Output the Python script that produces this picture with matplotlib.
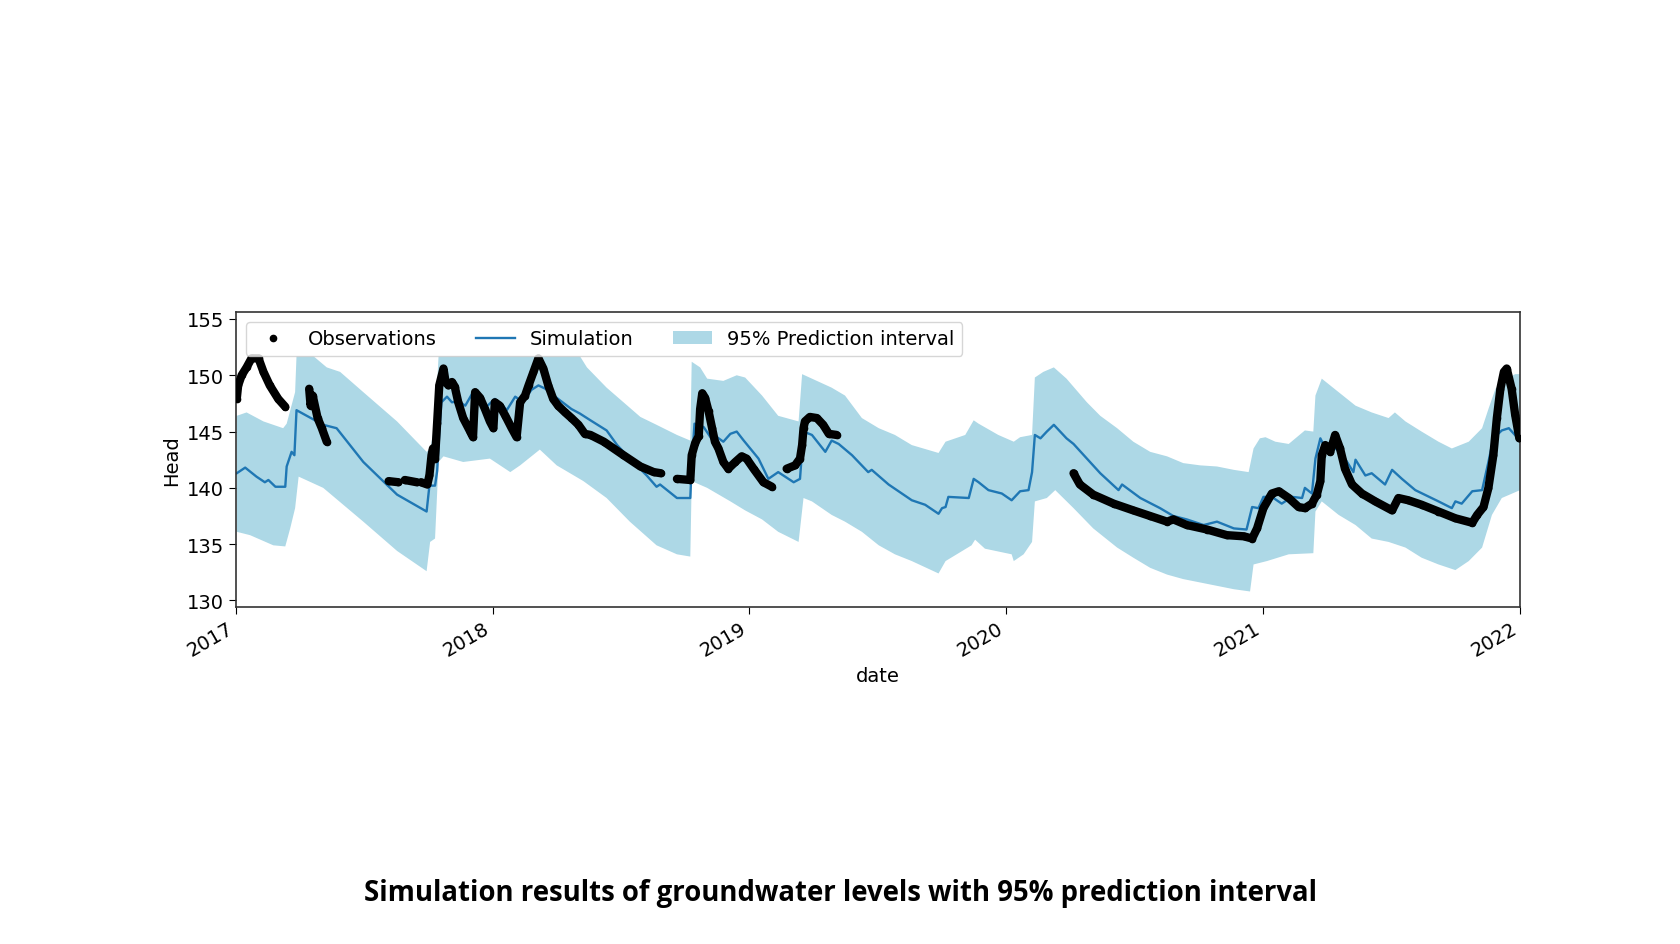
import numpy as np
import pandas as pd
import matplotlib
matplotlib.use("Agg")
from matplotlib import pyplot as plt
import matplotlib.dates as mdates

# x values are days since 2017-01-01
start = pd.Timestamp("2017-01-01")

sim_day = [1, 13, 29, 41, 46, 56, 70, 72, 79, 83, 86, 124, 143, 181, 229, 271,
           275, 283, 286, 288, 292, 300, 307, 316, 326, 337, 345, 356, 368, 378,
           385, 397, 404, 411, 420, 430, 440, 458, 477, 489, 504, 527, 542, 560,
           584, 598, 603, 627, 646, 648, 652, 665, 679, 684, 693, 703, 712, 722,
           743, 757, 771, 793, 802, 807, 819, 838, 847, 857, 876, 899, 904, 928,
           961, 980, 999, 1004, 1009, 1013, 1042, 1049, 1056, 1070, 1089, 1103,
           1115, 1127, 1132, 1136, 1144, 1153, 1163, 1181, 1191, 1210, 1229, 1255,
           1260, 1286, 1314, 1333, 1352, 1376, 1395, 1419, 1437, 1445, 1454, 1461,
           1473, 1487, 1502, 1516, 1520, 1530, 1535, 1542, 1549, 1558, 1577, 1589,
           1592, 1606, 1615, 1634, 1644, 1658, 1677, 1710, 1729, 1734, 1743, 1758,
           1772, 1781, 1788, 1800, 1810, 1826]
sim_head = [141.3, 141.8, 141.0, 140.5, 140.7, 140.1, 140.1, 141.9, 143.2, 142.9,
            146.9, 145.6, 145.3, 142.3, 139.4, 137.9, 140.2, 140.2, 141.5, 143.8,
            147.6, 148.1, 147.6, 147.7, 147.3, 148.5, 148.0, 147.2, 147.9, 147.4,
            146.9, 148.1, 147.8, 147.9, 148.7, 149.1, 148.8, 147.9, 147.0, 146.6,
            146.0, 145.1, 143.8, 142.6, 141.1, 140.1, 140.3, 139.1, 139.1, 142.0,
            145.7, 145.4, 144.1, 144.5, 144.1, 144.8, 145.0, 144.2, 142.6, 140.8,
            141.4, 140.5, 140.8, 145.0, 144.7, 143.2, 144.2, 143.9, 142.9, 141.4,
            141.6, 140.3, 138.9, 138.5, 137.7, 138.2, 138.3, 139.2, 139.1, 140.8,
            140.5, 139.8, 139.5, 138.9, 139.7, 139.8, 141.4, 144.7, 144.4, 145.0,
            145.6, 144.4, 143.9, 142.6, 141.3, 139.8, 140.3, 139.1, 138.2, 137.5,
            137.2, 136.7, 137.0, 136.4, 136.3, 138.3, 138.2, 139.2, 139.2, 138.6,
            139.2, 139.1, 140.0, 139.5, 142.6, 144.4, 143.5, 143.9, 142.6, 141.4,
            142.5, 141.1, 141.3, 140.3, 141.6, 140.8, 139.8, 138.8, 138.2, 138.8,
            138.6, 139.7, 139.8, 142.3, 144.4, 145.1, 145.3, 144.2]

upper_day = [1, 15, 39, 67, 72, 84, 86, 110, 129, 148, 181, 229, 271, 276, 283,
             288, 489, 499, 527, 551, 575, 598, 627, 646, 648, 660, 670, 693, 712,
             724, 748, 771, 800, 805, 819, 847, 866, 890, 914, 937, 961, 999, 1009,
             1037, 1049, 1056, 1084, 1106, 1115, 1132, 1136, 1148, 1163, 1181, 1210,
             1229, 1253, 1276, 1300, 1324, 1347, 1371, 1395, 1419, 1440, 1447, 1456,
             1464, 1478, 1497, 1520, 1532, 1535, 1544, 1568, 1592, 1615, 1639, 1648,
             1663, 1686, 1710, 1729, 1753, 1772, 1781, 1791, 1800, 1819, 1826]
upper_head = [146.4, 146.7, 145.9, 145.3, 145.7, 148.5, 151.7, 151.7, 150.7, 150.3,
              148.5, 145.9, 143.2, 143.5, 145.6, 151.7, 151.7, 150.7, 148.9, 147.6,
              146.3, 145.6, 144.7, 144.2, 151.2, 150.7, 149.7, 149.5, 150.0, 149.8,
              148.2, 146.4, 145.9, 150.1, 149.7, 148.9, 148.2, 146.2, 145.3, 144.7,
              143.8, 143.1, 144.1, 144.7, 146.0, 145.7, 144.7, 144.1, 144.5, 144.7,
              149.8, 150.3, 150.7, 149.7, 147.6, 146.4, 145.3, 144.1, 143.2, 142.8,
              142.2, 142.0, 141.9, 141.6, 141.4, 143.5, 144.4, 144.5, 144.1, 143.9,
              145.1, 145.0, 148.2, 149.7, 148.5, 147.3, 146.7, 146.2, 146.7, 145.9,
              145.0, 144.1, 143.5, 144.1, 145.3, 147.0, 148.8, 149.4, 150.1, 150.1]

lower_day = [1, 20, 53, 70, 77, 84, 89, 124, 181, 229, 271, 276, 283, 288, 295,
             323, 361, 390, 404, 432, 456, 494, 527, 560, 598, 627, 646, 648, 670,
             703, 724, 748, 771, 800, 807, 819, 847, 866, 890, 914, 937, 961, 999,
             1009, 1046, 1051, 1065, 1103, 1106, 1120, 1132, 1136, 1153, 1165, 1191,
             1219, 1253, 1276, 1300, 1324, 1347, 1371, 1395, 1419, 1442, 1447, 1466,
             1497, 1532, 1535, 1544, 1568, 1592, 1615, 1639, 1663, 1686, 1710, 1734,
             1753, 1772, 1786, 1800, 1826]
lower_head = [136.1, 135.8, 134.9, 134.8, 136.4, 138.2, 141.0, 140.0, 137.0, 134.4,
              132.6, 135.2, 135.5, 142.3, 142.8, 142.3, 142.6, 141.4, 142.0, 143.4,
              142.0, 140.6, 139.1, 137.0, 134.9, 134.1, 133.9, 140.6, 140.0, 138.8,
              138.0, 137.2, 136.1, 135.2, 139.1, 138.8, 137.6, 137.0, 136.1, 134.9,
              134.1, 133.5, 132.4, 133.5, 134.9, 135.4, 134.6, 134.1, 133.5, 134.1,
              135.2, 138.8, 139.1, 139.8, 138.2, 136.4, 134.7, 133.8, 132.9, 132.3,
              131.9, 131.6, 131.3, 131.0, 130.8, 133.2, 133.5, 134.1, 134.2, 137.9,
              138.8, 137.6, 136.7, 135.5, 135.2, 134.7, 133.8, 133.2, 132.7, 133.5,
              134.7, 137.6, 139.1, 139.8]

# observation runs; gaps in the record split them
obs_runs = [
    ([1, 3, 8, 15, 22, 32, 39, 48, 60, 70],
     [147.9, 149.1, 150.0, 150.7, 151.5, 151.5, 150.3, 149.1, 147.9, 147.2]),
    ([104, 106, 109, 116, 122, 129],
     [148.8, 147.3, 148.2, 146.2, 145.3, 144.1]),
    ([217, 231], [140.6, 140.5]),
    ([240, 257], [140.7, 140.5]),
    ([263, 272, 275, 278, 280, 283, 286, 289, 295, 298, 302, 307, 311, 316,
      323, 333, 337, 340, 347, 354, 361, 366, 368, 375, 383, 392, 399, 404,
      411, 416, 423, 430, 437, 444, 451, 458, 468, 477, 487, 496, 504, 523,
      551, 575, 594, 604],
     [140.5, 140.3, 141.1, 142.9, 143.5, 142.6, 145.8, 149.1, 150.6, 149.4,
      149.1, 149.4, 149.0, 147.6, 146.2, 145.0, 144.5, 148.5, 148.0, 147.0,
      145.9, 145.3, 147.6, 147.3, 146.4, 145.3, 144.5, 147.6, 148.2, 149.1,
      150.3, 151.5, 150.6, 149.1, 147.9, 147.3, 146.7, 146.2, 145.6, 144.8,
      144.7, 144.1, 142.9, 141.9, 141.4, 141.3]),
    ([627, 646, 648, 653, 658, 660, 663, 667, 672, 677, 681, 686, 693, 700,
      710, 719, 726, 736, 750, 762],
     [140.8, 140.7, 142.9, 144.0, 144.6, 147.0, 148.4, 148.0, 146.8, 145.3,
      144.1, 143.5, 142.3, 141.7, 142.3, 142.8, 142.6, 141.7, 140.5, 140.1]),
    ([783, 795, 802, 805, 807, 809, 816, 826, 835, 843, 854],
     [141.7, 142.0, 142.6, 143.8, 145.3, 145.9, 146.3, 146.2, 145.6, 144.8, 144.7]),
    ([1191, 1200, 1219, 1248, 1276, 1300, 1324, 1333, 1352, 1381, 1409, 1433,
      1445, 1452, 1461, 1473, 1483, 1497, 1511, 1520, 1530, 1537, 1542, 1544,
      1549, 1556, 1563, 1570, 1577, 1587, 1601, 1620, 1644, 1653, 1667, 1686,
      1710, 1734, 1758, 1765, 1774, 1781, 1788, 1793, 1798, 1803, 1807, 1814,
      1819, 1825],
     [141.3, 140.3, 139.4, 138.6, 138.0, 137.5, 137.0, 137.2, 136.7, 136.3,
      135.8, 135.7, 135.5, 136.4, 138.2, 139.5, 139.7, 139.1, 138.3, 138.2,
      138.6, 139.4, 140.6, 142.9, 143.8, 143.2, 144.7, 143.5, 141.7, 140.3,
      139.5, 138.8, 138.0, 139.1, 138.9, 138.5, 137.9, 137.3, 136.9, 137.6,
      138.3, 140.0, 142.9, 146.2, 148.8, 150.3, 150.6, 148.8, 146.5, 144.4]),
]


def to_dates(days):
    return mdates.date2num(start + pd.to_timedelta(days, unit="D"))


def main():
    fig = plt.figure(figsize=(16.8, 9.45), dpi=100)
    ax = fig.add_axes([0.1405, 0.3566, 0.7643, 0.3122])

    band_x = np.concatenate([to_dates(upper_day), to_dates(lower_day)[::-1]])
    band_y = np.concatenate([upper_head, lower_head[::-1]])
    band = ax.fill(band_x, band_y, color="lightblue", lw=0,
                   label="95% Prediction interval")[0]

    sim, = ax.plot(to_dates(sim_day), sim_head, color="C0", lw=1.7,
                   label="Simulation")

    obs = None
    for days, heads in obs_runs:
        x = to_dates(days)
        ax.plot(x, heads, color="k", lw=6, solid_capstyle="round",
                solid_joinstyle="round", zorder=3)
        obs, = ax.plot(x, heads, "k.", ms=9, zorder=3, label="Observations")

    ax.set_xlim(to_dates([0])[0], to_dates([1826])[0])
    ax.set_ylim(129.42, 155.62)
    ax.set_yticks([130, 135, 140, 145, 150, 155])
    ax.xaxis.set_major_locator(mdates.YearLocator())
    ax.xaxis.set_major_formatter(mdates.DateFormatter("%Y"))
    ax.tick_params(labelsize=14, length=5)
    plt.setp(ax.get_xticklabels(), rotation=30, ha="right")
    for sp in ax.spines.values():
        sp.set_color("#333333")
        sp.set_linewidth(1.2)
    ax.set_xlabel("date", fontsize=14)
    ax.set_ylabel("Head", fontsize=14)

    ax.legend([obs, sim, band],
              ["Observations", "Simulation", "95% Prediction interval"],
              loc="upper left", ncol=3, fontsize=14)

    fig.text(0.5, 0.054,
             "Simulation results of groundwater levels with 95% prediction interval",
             ha="center", va="center", fontsize=19.8, fontweight="bold",
             family="Open Sans")

    fig.savefig("out.png", dpi=100)


if __name__ == "__main__":
    main()
